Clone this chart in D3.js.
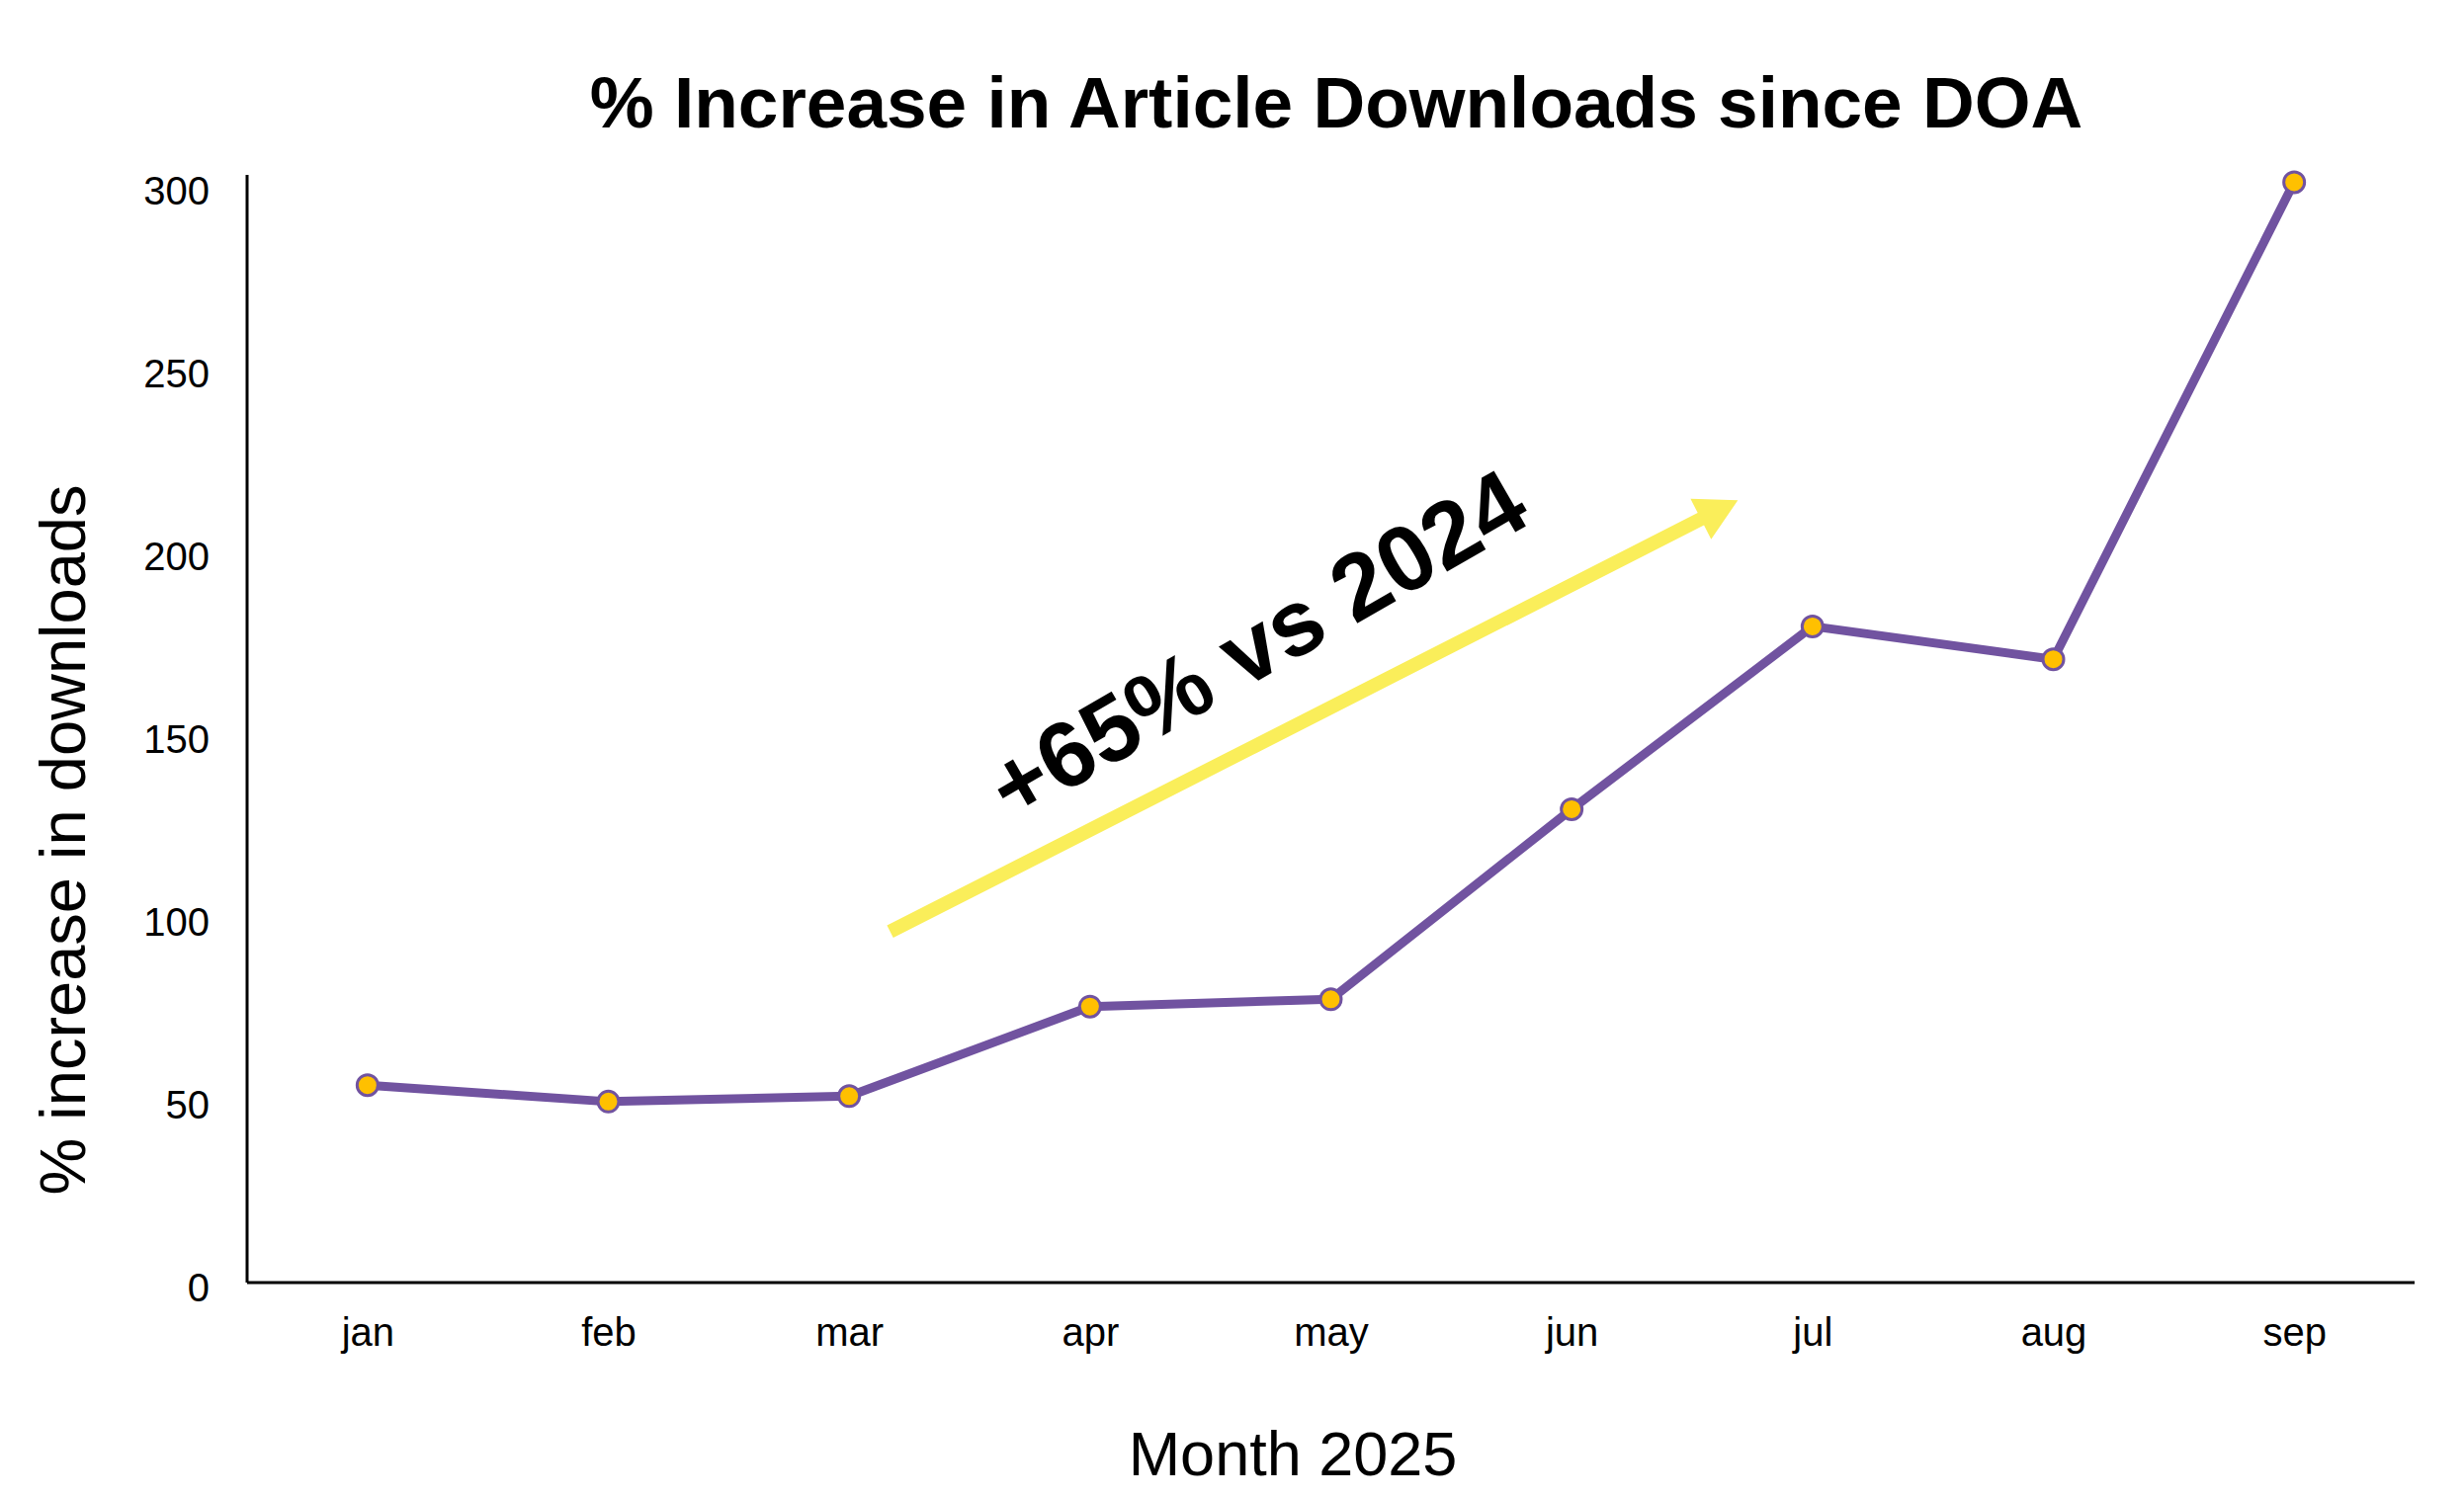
<!DOCTYPE html>
<html>
<head>
<meta charset="utf-8">
<script src="https://cdn.jsdelivr.net/npm/d3@7"></script>
<style>
  html, body { margin: 0; padding: 0; background: #fff; }
  svg { display: block; font-family: "Liberation Sans", Arial, sans-serif; }
</style>
</head>
<body>
<svg id="chart" width="2493" height="1515"></svg>
<script>
// data
const months = ['jan', 'feb', 'mar', 'apr', 'may', 'jun', 'jul', 'aug', 'sep'];
const increase = [54, 49.5, 51, 75.5, 77.5, 129.5, 179.5, 170.5, 301];
const yTicks = [0, 50, 100, 150, 200, 250, 300];

// annotation, in data units (month index, % value)
const arrowFrom = [2.17, 96];
const arrowTo = [5.69, 214];
const noteAt = [3.76, 167];
const noteText = '+65% vs 2024';

const W = 2493, H = 1515;
const margin = { top: 177, right: 50, bottom: 217, left: 250 };

const svg = d3.select('#chart');

const x = d3.scalePoint()
  .domain(months)
  .range([margin.left, W - margin.right])
  .padding(0.5);

// month index -> pixel, for the annotation
const xi = d3.scaleLinear()
  .domain([0, months.length - 1])
  .range([x(months[0]), x(months[months.length - 1])]);

const y = d3.scaleLinear()
  .domain([0, 303])
  .range([H - margin.bottom, margin.top]);

// axes
const xAxis = svg.append('g')
  .attr('transform', `translate(0,${H - margin.bottom})`)
  .call(d3.axisBottom(x).tickSize(0).tickPadding(0));
xAxis.select('.domain').attr('d', `M${margin.left},0H${W - margin.right}`)
  .attr('stroke', '#000').attr('stroke-width', 3);
xAxis.selectAll('text')
  .attr('y', 64).attr('dy', 0)
  .attr('font-size', 40).attr('fill', '#000');

const yAxis = svg.append('g')
  .attr('transform', `translate(${margin.left},0)`)
  .call(d3.axisLeft(y).tickValues(yTicks).tickSize(0).tickPadding(38));
yAxis.select('.domain').attr('d', `M0,${margin.top}V${H - margin.bottom}`)
  .attr('stroke', '#000').attr('stroke-width', 3);
yAxis.selectAll('text')
  .attr('dy', '0.45em')
  .attr('font-size', 40).attr('fill', '#000');

// labels
svg.append('text')
  .attr('x', 1352).attr('y', 129)
  .attr('text-anchor', 'middle')
  .attr('font-size', 73).attr('font-weight', 'bold')
  .text('% Increase in Article Downloads since DOA');

svg.append('text')
  .attr('x', 1308).attr('y', 1493)
  .attr('text-anchor', 'middle')
  .attr('font-size', 63)
  .text('Month 2025');

svg.append('text')
  .attr('transform', 'translate(86,850) rotate(-90)')
  .attr('text-anchor', 'middle')
  .attr('font-size', 65)
  .text('% increase in downloads');

// yellow arrow
const ax0 = xi(arrowFrom[0]), ay0 = y(arrowFrom[1]);
const ax1 = xi(arrowTo[0]), ay1 = y(arrowTo[1]);
const len = Math.hypot(ax1 - ax0, ay1 - ay0);
const ang = Math.atan2(ay1 - ay0, ax1 - ax0) * 180 / Math.PI;
const shaft = 14, headW = 46, headL = 42;
svg.append('path')
  .attr('transform', `translate(${ax0},${ay0}) rotate(${ang})`)
  .attr('d', `M0,${-shaft / 2}H${len - headL}V${-headW / 2}L${len},0L${len - headL},${headW / 2}V${shaft / 2}H0Z`)
  .attr('fill', '#faee5a');

svg.append('text')
  .attr('transform', `translate(${xi(noteAt[0])},${y(noteAt[1])}) rotate(-30)`)
  .attr('text-anchor', 'middle')
  .attr('font-size', 94).attr('font-weight', 'bold')
  .text(noteText);

// series
const pts = months.map((m, i) => [x(m), y(increase[i])]);
svg.append('path')
  .attr('d', d3.line()(pts))
  .attr('fill', 'none')
  .attr('stroke', '#7153a0')
  .attr('stroke-width', 9)
  .attr('stroke-linejoin', 'round');

svg.append('g').selectAll('circle')
  .data(pts)
  .join('circle')
  .attr('cx', d => d[0]).attr('cy', d => d[1])
  .attr('r', 10.5)
  .attr('fill', '#ffc000')
  .attr('stroke', '#7153a0')
  .attr('stroke-width', 3);
</script>
</body>
</html>
